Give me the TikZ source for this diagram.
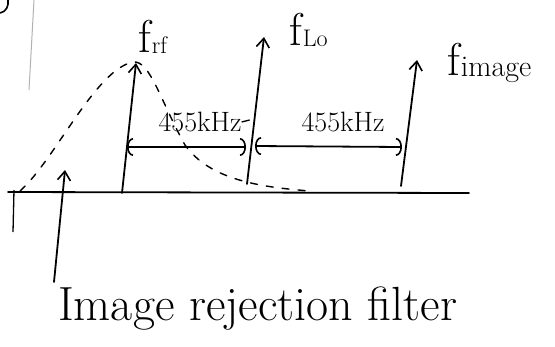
\documentclass[tikz,border=0pt]{standalone}
\usetikzlibrary{arrows.meta}
\newcommand{\fsub}[2]{{\fontsize{46}{48}\selectfont f}\kern1pt\raisebox{-1pt}{\fontsize{#1}{#1}\selectfont #2}}
\begin{document}
\begin{tikzpicture}[x=1pt,y=-1pt,
  pen/.style={line width=1.8pt,line cap=round,line join=round},
  uparrow/.style={pen,-{Straight Barb[length=9pt,width=13pt,line width=1.6pt]}},
  spanarrow/.style={pen,{Arc Barb[length=6pt,width=18pt,line width=1.6pt]}-{Arc Barb[length=6pt,width=18pt,line width=1.6pt]}},
  filt/.style={line width=1.4pt,dash pattern=on 7pt off 9pt,line cap=round},
  lbl/.style={inner sep=0pt},
  span/.style={inner sep=0pt,font=\fontsize{28}{30}\selectfont},
]
\useasboundingbox (0,0) rectangle (555,346);
% fragments at top-left
\draw[line width=1.6pt] (0,13) .. controls (6,12) and (9,6) .. (8,0);
\draw[gray!60,line width=1pt] (34,0) -- (29,90);
% axis
\coordinate (ax0) at (8,192);
\coordinate (ax1) at (469,193);
\draw[pen] (ax0) -- (ax1);
\coordinate (tk0) at (14,190);
\coordinate (tk1) at (13,232);
\draw[line width=1.3pt] (tk0) -- (tk1);
% filter response (dashed)
\draw[filt] (20,191) .. controls (55,160) and (95,70) .. (133,62)
            .. controls (150,60) and (160,100) .. (185,145)
            .. controls (210,180) and (260,187) .. (310,191);
% spectral lines
\coordinate (rf0) at (122,193);
\coordinate (rf1) at (136,63);
\coordinate (lo0) at (247,184);
\coordinate (lo1) at (264,37);
\coordinate (im0) at (401,186);
\coordinate (im1) at (417,60);
\draw[uparrow] (rf0) -- (rf1);
\draw[uparrow] (lo0) -- (lo1);
\draw[uparrow] (im0) -- (im1);
\node[lbl,anchor=base west] (frf) at (138,52) {\fsub{24}{rf}};
\node[lbl,anchor=base west] (flo) at (289,45) {\fsub{24}{Lo}};
\node[lbl,anchor=base west] (fim) at (447,75) {\fsub{30}{image}};
% 455 kHz spans
\coordinate (s1a) at (127,147);
\coordinate (s1b) at (246,147);
\coordinate (s2a) at (255,146);
\coordinate (s2b) at (402,147);
\draw[spanarrow] (s1a) -- (s1b);
\draw[spanarrow] (s2a) -- (s2b);
\node[span] (k1) at (200,122) {455kHz};
\node[span] (k2) at (343,122) {455kHz};
\draw[line width=1.3pt] (k1.east) -- ++(8,-2);
% image rejection filter
\node[inner sep=0pt,anchor=base west,font=\fontsize{48}{50}\selectfont] (irf) at (58,320) {Image rejection filter};
\coordinate (fp) at (65,170);
\draw[uparrow] (54,282) -- (fp);
\end{tikzpicture}
\end{document}
